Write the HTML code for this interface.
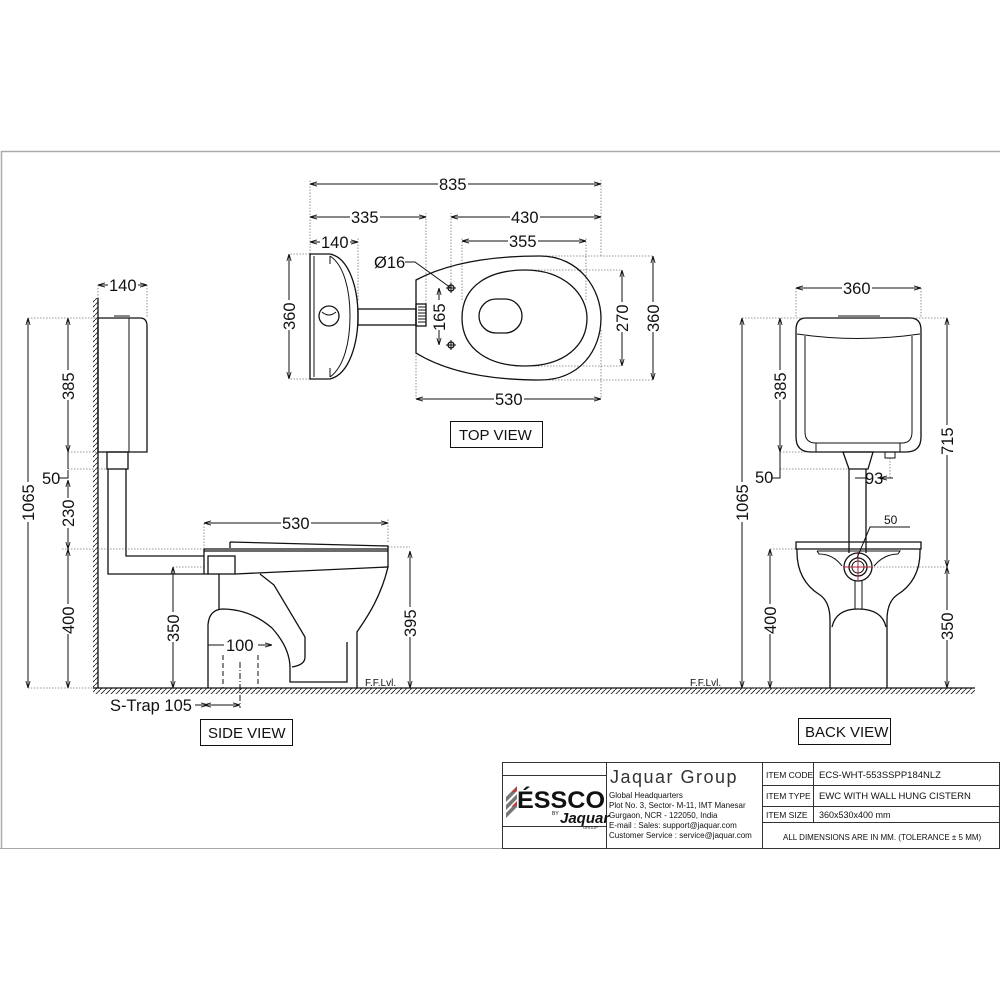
<!DOCTYPE html>
<html><head><meta charset="utf-8"><style>
html,body{margin:0;padding:0;background:#fff}
svg{display:block}
text{font-family:"Liberation Sans",sans-serif;fill:#111}
.d{font-size:16.5px}
.o{fill:none;stroke:#111;stroke-width:1.3}
.t{fill:none;stroke:#111;stroke-width:1}
.e{fill:none;stroke:#777;stroke-width:0.8;stroke-dasharray:1.5 1.5}
</style></head><body>
<svg width="1000" height="1000" viewBox="0 0 1000 1000" xmlns="http://www.w3.org/2000/svg">
<defs>
<marker id="a" viewBox="0 0 10 10" refX="10" refY="5" markerWidth="7" markerHeight="7" orient="auto-start-reverse"><path d="M0,2 L10,5 L0,8" fill="none" stroke="#111" stroke-width="1.2"/></marker>
<pattern id="h" width="5" height="5" patternUnits="userSpaceOnUse"><path d="M0,5 L5,0" stroke="#222" stroke-width="0.9"/></pattern>
</defs>
<path d="M1.5,848 V151.5 H1000" fill="none" stroke="#aaa" stroke-width="1.5"/>
<path d="M0,848.5 H1000" stroke="#aaa" stroke-width="1"/>

<!-- ===== TOP VIEW ===== -->
<g>
<path class="e" d="M310,254 V180 M601,256 V180 M310,254 H289 M310,379 H289 M426,304 V213 M358,300 V238 M451,286 V213 M462,300 V237 M586,300 V237 M540,256 H653 M540,380 H653 M520,270 H622 M520,366 H622 M416,353 V399 M601,330 V399"/>
<path class="o" d="M310,254 H330 C350,258 358,290 358,316 C358,342 350,374 330,379 H310 Z"/>
<path class="t" d="M314,256 V377 M330,256 C344,265 350,290 350,316 C350,342 344,367 330,377 M330,256 V264 M330,368 V377"/>
<circle class="o" cx="329" cy="316" r="10"/>
<path class="t" d="M322,312 Q329,318 336,312"/>
<rect class="o" x="358" y="309" width="58" height="16"/>
<rect class="o" x="416" y="304" width="10" height="22"/>
<path class="t" d="M418,307 H426 M418,310 H426 M418,313 H426 M418,316 H426 M418,319 H426 M418,322 H426"/>
<path class="o" d="M416,280 C450,262 495,256 540,256 C580,256 601,290 601,318 C601,350 580,380 540,380 C495,380 450,374 416,353 Z"/>
<path class="o" d="M462,318 C462,285 490,270 525,270 C565,270 587,295 587,318 C587,345 565,366 525,366 C490,366 462,350 462,318 Z"/>
<rect class="o" x="479" y="299" width="43" height="34" rx="17"/>
<circle class="o" cx="451" cy="288" r="3"/><circle class="o" cx="451" cy="345" r="3"/>
<path class="t" d="M446,288 H456 M451,283 V293 M446,345 H456 M451,340 V350"/>
<path class="t" d="M405,262 H415 L451,288"/>
<text class="d" x="374" y="268">Ø16</text>
<path class="t" marker-start="url(#a)" marker-end="url(#a)" d="M310,184 H601"/>
<rect x="438" y="176" width="30" height="14" fill="#fff"/><text class="d" x="439" y="190">835</text>
<path class="t" marker-start="url(#a)" marker-end="url(#a)" d="M310,217 H426"/>
<rect x="350" y="209" width="30" height="14" fill="#fff"/><text class="d" x="351" y="223">335</text>
<path class="t" marker-start="url(#a)" marker-end="url(#a)" d="M451,217 H601"/>
<rect x="510" y="209" width="30" height="14" fill="#fff"/><text class="d" x="511" y="223">430</text>
<path class="t" marker-start="url(#a)" marker-end="url(#a)" d="M462,241 H586"/>
<rect x="508" y="233" width="30" height="14" fill="#fff"/><text class="d" x="509" y="247">355</text>
<path class="t" marker-start="url(#a)" marker-end="url(#a)" d="M310,242 H358"/>
<rect x="320" y="234" width="30" height="14" fill="#fff"/><text class="d" x="321" y="248">140</text>
<path class="t" marker-start="url(#a)" marker-end="url(#a)" d="M289,254 V379"/>
<rect x="281" y="300" width="16" height="30" fill="#fff"/><text class="d" transform="translate(295,330) rotate(-90)">360</text>
<path class="t" marker-start="url(#a)" marker-end="url(#a)" d="M439,288 V345"/>
<rect x="431" y="300" width="16" height="30" fill="#fff"/><text class="d" transform="translate(445,331) rotate(-90)">165</text>
<path class="t" marker-start="url(#a)" marker-end="url(#a)" d="M622,270 V366"/>
<rect x="614" y="302" width="16" height="30" fill="#fff"/><text class="d" transform="translate(628,332) rotate(-90)">270</text>
<path class="t" marker-start="url(#a)" marker-end="url(#a)" d="M653,256 V380"/>
<rect x="645" y="302" width="16" height="30" fill="#fff"/><text class="d" transform="translate(659,332) rotate(-90)">360</text>
<path class="t" marker-start="url(#a)" marker-end="url(#a)" d="M416,399 H601"/>
<rect x="494" y="391" width="30" height="14" fill="#fff"/><text class="d" x="495" y="405">530</text>
<rect x="450.5" y="421.5" width="92" height="26" fill="none" stroke="#111"/>
<text x="459" y="440" style="font-size:15px">TOP VIEW</text>
</g>

<!-- ===== SIDE VIEW ===== -->
<g>
<rect x="93" y="298" width="5" height="390" fill="url(#h)"/>
<path class="o" d="M98,298 V688"/>
<rect x="93" y="688" width="882" height="6" fill="url(#h)"/>
<path class="o" d="M93,688 H975"/>
<path class="e" d="M98,285 V298 M147,285 V318 M28,318 H98 M28,688 H93 M68,452 H98 M68,469 H108 M62,549 H204 M173,567 H204 M388,542 V518 M204,549 V523 M388,547 H410"/>
<path class="o" d="M98,318 H140 Q147,318 147,326 V452 H98 Z"/>
<path class="t" d="M129,318 V452 M114,316 H130"/>
<rect class="o" x="107" y="452" width="21" height="17"/>
<path class="o" d="M108,469 V574 H208 M126,469 V556 H204"/>
<path class="o" d="M230,542 L388,546 V550 M230,542 V548"/>
<path class="o" d="M204,549 H388 M204,549 V574 M388,550 V567"/>
<path class="o" d="M204,551 H388" stroke-width="0.8"/>
<rect class="o" x="208" y="556" width="27" height="18"/>
<path class="o" d="M235,574 L388,567 C380,600 365,620 357,632 V688"/>
<path class="o" d="M219,574 V609 M208,688 V625 Q209,610 222,609 Q250,609 272,628 Q290,648 290,668 V682 H347 V642"/>
<path class="o" d="M260,574 L274,585 L305,637 V657 Q305,665 292,667"/>
<path class="t" stroke-dasharray="5 3" d="M223,655 V688 M258,655 V688"/>
<path class="t" stroke-dasharray="6 2 1 2" d="M240,662 V708"/>
<path class="t" marker-start="url(#a)" marker-end="url(#a)" d="M98,285 H147"/>
<rect x="108" y="277" width="30" height="14" fill="#fff"/><text class="d" x="109" y="291">140</text>
<path class="t" marker-start="url(#a)" marker-end="url(#a)" d="M28,318 V688"/>
<rect x="20" y="482" width="16" height="40" fill="#fff"/><text class="d" transform="translate(34,521) rotate(-90)">1065</text>
<path class="t" marker-start="url(#a)" marker-end="url(#a)" d="M68,318 V452"/>
<rect x="60" y="370" width="16" height="30" fill="#fff"/><text class="d" transform="translate(74,400) rotate(-90)">385</text>
<path class="t" d="M68,452 V469 M68,470 V478 H58"/>
<text class="d" x="42" y="484">50</text>
<path class="t" marker-start="url(#a)" marker-end="url(#a)" d="M68,480 V549"/>
<rect x="60" y="498" width="16" height="30" fill="#fff"/><text class="d" transform="translate(74,527) rotate(-90)">230</text>
<path class="t" marker-start="url(#a)" marker-end="url(#a)" d="M68,549 V688"/>
<rect x="60" y="604" width="16" height="30" fill="#fff"/><text class="d" transform="translate(74,634) rotate(-90)">400</text>
<path class="t" marker-start="url(#a)" marker-end="url(#a)" d="M173,567 V688"/>
<rect x="165" y="612" width="16" height="30" fill="#fff"/><text class="d" transform="translate(179,642) rotate(-90)">350</text>
<path class="t" marker-start="url(#a)" marker-end="url(#a)" d="M410,551 V688"/>
<rect x="402" y="607" width="16" height="30" fill="#fff"/><text class="d" transform="translate(416,637) rotate(-90)">395</text>
<path class="t" marker-start="url(#a)" marker-end="url(#a)" d="M204,523 H388"/>
<rect x="281" y="515" width="30" height="14" fill="#fff"/><text class="d" x="282" y="529">530</text>
<path class="t" marker-end="url(#a)" d="M224,645 H208 M258,645 H272" />
<text class="d" x="226" y="651">100</text>
<path class="t" marker-end="url(#a)" d="M195,705 H208"/>
<path class="t" marker-start="url(#a)" marker-end="url(#a)" d="M204,705 H240"/>
<text class="d" x="110" y="711">S-Trap 105</text>
<text x="365" y="686" style="font-size:10px">F.F.Lvl.</text>
<rect x="200.5" y="719.5" width="92" height="26" fill="none" stroke="#111"/>
<text x="208" y="738" style="font-size:15px">SIDE VIEW</text>
</g>

<!-- ===== BACK VIEW ===== -->
<g>
<path class="e" d="M796,288 V318 M921,288 V318 M742,318 H948 M780,452 H806 M780,469 H849 M742,688 H800 M770,549 H796 M871,567 H948 M890,458 V478"/>
<path class="o" d="M806,318 H910 Q921,318 921,330 V437 Q921,452 906,452 H811 Q796,452 796,437 V330 Q796,318 806,318 Z"/>
<path class="t" d="M797,334 Q858,343 920,334 M805,336 V432 Q805,443 816,443 H902 Q912,443 912,432 V336 M816,443 V452 M900,443 V452 M838,316 H880"/>
<path class="o" d="M843,452 H873 L868,469 H849 Z"/>
<rect class="t" x="885" y="452" width="10" height="6"/>
<path class="o" d="M849,469 V553 M866,469 V553"/>
<path class="o" d="M796,542 H921 V549 H796 Z"/>
<path class="o" d="M797,549 Q796,580 820,595 Q830,602 830,620 V688 M920,549 Q921,580 897,595 Q887,602 887,620 V688"/>
<path class="o" d="M832,627 Q836,609 858,609 Q882,609 886,627"/>
<path class="t" d="M817,551 H900 L898,554 Q884,554 874,566 M817,551 L819,554 Q833,554 842,566"/>
<circle class="o" cx="858" cy="567" r="14"/>
<circle class="o" cx="858" cy="567" r="9"/>
<circle class="t" cx="858" cy="567" r="6"/>
<path class="t" d="M855,581 V609 M862,581 V609"/>
<path d="M843,567 H873 M858,552 V580" stroke="#b0203a" stroke-width="1"/>
<path class="t" d="M910,527 H870 L857,558"/>
<text x="884" y="524" style="font-size:12px">50</text>
<path class="t" marker-start="url(#a)" marker-end="url(#a)" d="M796,288 H921"/>
<rect x="842" y="280" width="30" height="14" fill="#fff"/><text class="d" x="843" y="294">360</text>
<path class="t" marker-start="url(#a)" marker-end="url(#a)" d="M742,318 V688"/>
<rect x="734" y="482" width="16" height="40" fill="#fff"/><text class="d" transform="translate(748,521) rotate(-90)">1065</text>
<path class="t" marker-start="url(#a)" marker-end="url(#a)" d="M780,318 V452"/>
<rect x="772" y="370" width="16" height="30" fill="#fff"/><text class="d" transform="translate(786,400) rotate(-90)">385</text>
<path class="t" d="M780,452 V478 H772"/>
<text class="d" x="755" y="483">50</text>
<path class="t" marker-end="url(#a)" d="M855,478 H866 M893,478 H880"/>
<text class="d" x="865" y="484">93</text>
<path class="t" marker-start="url(#a)" marker-end="url(#a)" d="M947,318 V567"/>
<rect x="939" y="425" width="16" height="30" fill="#fff"/><text class="d" transform="translate(953,455) rotate(-90)">715</text>
<path class="t" marker-start="url(#a)" marker-end="url(#a)" d="M947,567 V688"/>
<rect x="939" y="610" width="16" height="30" fill="#fff"/><text class="d" transform="translate(953,640) rotate(-90)">350</text>
<path class="t" marker-start="url(#a)" marker-end="url(#a)" d="M770,549 V688"/>
<rect x="762" y="604" width="16" height="30" fill="#fff"/><text class="d" transform="translate(776,634) rotate(-90)">400</text>
<text x="690" y="686" style="font-size:10px">F.F.Lvl.</text>
<rect x="798.5" y="718.5" width="92" height="26" fill="none" stroke="#111"/>
<text x="805" y="737" style="font-size:15px">BACK VIEW</text>
</g>

<!-- ===== TITLE BLOCK ===== -->
<g stroke="#333" stroke-width="1" fill="none">
<rect x="502.5" y="762.5" width="497" height="86"/>
<path d="M606.5,762 V848 M762.5,762 V848 M813.5,762 V822 M762,785.5 H1000 M762,806.5 H1000 M762,822.5 H1000 M502,775.5 H606 M502,826.5 H606"/>
</g>
<path d="M506,797 L517,786 V791 L506,802 Z M506,805 L517,794 V799 L506,810 Z M506,813 L517,802 V807 L506,818 Z" fill="#777"/>
<path d="M511,793 L517,787 V791 Z M511,807 L517,801 V805 Z" fill="#c33"/>
<text x="517" y="808" style="font-size:24px;font-weight:bold" textLength="88" lengthAdjust="spacingAndGlyphs">ÉSSCO</text>
<text x="552" y="815" style="font-size:5px">BY</text>
<text x="560" y="823" style="font-size:15px;font-weight:bold;font-style:italic">Jaquar</text>
<text x="583" y="829" style="font-size:4px">GROUP</text>
<text x="610" y="783" style="font-size:18px;fill:#333;letter-spacing:1.5px">Jaquar Group</text>
<g style="font-size:8px">
<text x="609" y="798">Global Headquarters</text>
<text x="609" y="808">Plot No. 3, Sector- M-11, IMT Manesar</text>
<text x="609" y="818">Gurgaon, NCR - 122050, India</text>
<text x="609" y="828">E-mail : Sales: support@jaquar.com</text>
<text x="609" y="838">Customer Service : service@jaquar.com</text>
<text x="766" y="778" style="font-size:8.5px">ITEM CODE</text>
<text x="766" y="799" style="font-size:8.5px">ITEM TYPE</text>
<text x="766" y="818" style="font-size:8.5px">ITEM SIZE</text>
<text x="819" y="778" style="font-size:9.5px">ECS-WHT-553SSPP184NLZ</text>
<text x="819" y="799" style="font-size:9.5px">EWC WITH WALL HUNG CISTERN</text>
<text x="819" y="818" style="font-size:9px">360x530x400 mm</text>
<text x="783" y="840" style="font-size:8px">ALL DIMENSIONS ARE IN MM. (TOLERANCE ± 5 MM)</text>
</g>
</svg>
</body></html>
